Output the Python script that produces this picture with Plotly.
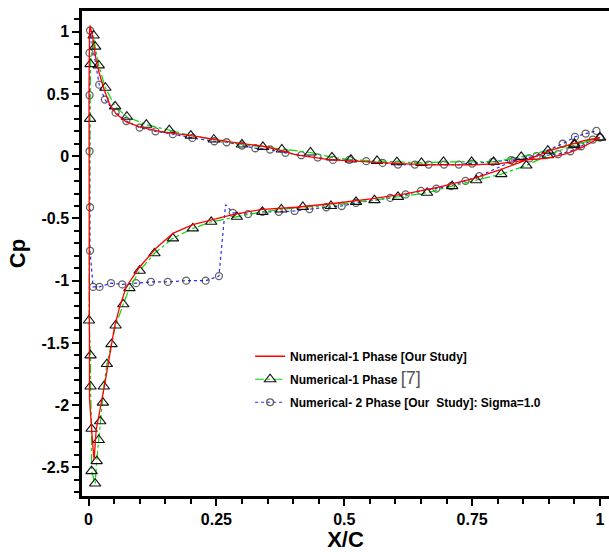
import plotly.graph_objects as go

# ---------------- data ----------------
# Numerical-1 Phase [Our Study]  (red solid line) : path TE(pressure)->LE->TE(suction)
red_x = [1.0, 0.967, 0.935, 0.895, 0.857, 0.804, 0.752, 0.674, 0.609, 0.543, 0.47, 0.406,
         0.378, 0.341, 0.276, 0.217, 0.191, 0.139, 0.10, 0.074, 0.054, 0.041, 0.031, 0.0215,
         0.015, 0.008, 0.003,
         0.002, 0.001, 0.001, 0.002, 0.008, 0.011,
         0.015, 0.0215, 0.031, 0.041, 0.051, 0.061, 0.074, 0.10, 0.132, 0.165, 0.204, 0.243,
         0.282, 0.335, 0.406, 0.478, 0.556, 0.622, 0.687, 0.752, 0.804, 0.857, 0.905, 0.97, 1.0]
red_cp = [0.15, 0.075, 0.02, -0.018, -0.03, -0.06, -0.07, -0.07, -0.06, -0.045, -0.027, 0.01,
          0.045, 0.08, 0.115, 0.155, 0.17, 0.20, 0.235, 0.275, 0.34, 0.42, 0.53, 0.66,
          0.77, 0.96, 1.05,
          1.0, 0.5, -1.0, -1.95, -2.3, -2.44,
          -2.2, -2.07, -1.85, -1.61, -1.37, -1.21, -1.05, -0.89, -0.74, -0.62, -0.55, -0.51,
          -0.47, -0.43, -0.41, -0.38, -0.34, -0.30, -0.246, -0.18, -0.11, -0.03, 0.048, 0.128, 0.15]

# Numerical-1 Phase [7]  (green dash-dot, triangles)
green_x = [1.0, 0.95, 0.898, 0.846, 0.792, 0.749, 0.694, 0.651, 0.603, 0.564, 0.513, 0.476,
           0.434, 0.378, 0.341, 0.30, 0.245, 0.20, 0.158, 0.113, 0.075, 0.052, 0.033, 0.02,
           0.013, 0.01, 0.004, 0.003,
           0.001, 0.004, 0.004, 0.006, 0.006, 0.013, 0.016, 0.02, 0.023, 0.028, 0.03, 0.036,
           0.045, 0.053, 0.068, 0.08, 0.10, 0.129, 0.165, 0.204, 0.24, 0.29, 0.34, 0.377,
           0.419, 0.474, 0.523, 0.559, 0.605, 0.662, 0.711, 0.758, 0.807, 0.856, 0.898, 0.95, 1.0]
green_cp = [0.15, 0.10, 0.045, -0.005, -0.046, -0.046, -0.046, -0.054, -0.048, -0.038, -0.027, -0.01,
            0.03, 0.054, 0.075, 0.094, 0.134, 0.165, 0.21, 0.253, 0.317, 0.40, 0.55, 0.73,
            0.88, 0.97, 0.74, 0.30,
            -1.32, -1.6, -1.85, -2.19, -2.53, -2.63, -2.45, -2.28, -2.13, -1.98, -1.85, -1.67,
            -1.51, -1.36, -1.19, -1.06, -0.92, -0.78, -0.66, -0.58, -0.527, -0.487, -0.447, -0.428,
            -0.407, -0.40, -0.367, -0.353, -0.327, -0.294, -0.24, -0.193, -0.144, -0.075, 0.008, 0.09, 0.15]

# Numerical-2 Phase [Our Study]: Sigma=1.0  (blue dotted, circles)
blue_x = [1.0, 0.986, 0.963, 0.942, 0.918, 0.876, 0.826, 0.79, 0.75, 0.724, 0.695, 0.665,
          0.638, 0.605, 0.575, 0.543, 0.51, 0.478, 0.448, 0.416, 0.385, 0.355, 0.326, 0.30,
          0.27, 0.246, 0.203, 0.165, 0.131, 0.10, 0.074, 0.053, 0.032, 0.021,
          0.003, 0.002, 0.002, 0.002, 0.003, 0.003,
          0.009, 0.0215, 0.044, 0.066, 0.093, 0.122, 0.155, 0.191, 0.229, 0.255,
          0.268,
          0.282, 0.312, 0.34, 0.372, 0.403, 0.432, 0.465, 0.495, 0.523, 0.59, 0.62, 0.65,
          0.68, 0.709, 0.737, 0.764, 0.83, 0.862, 0.927, 0.951, 0.972, 0.993]
blue_cp = [0.15, 0.134, 0.08, 0.04, 0.016, 0.0, -0.032, -0.046, -0.059, -0.067, -0.067, -0.067,
           -0.067, -0.067, -0.054, -0.04, -0.03, -0.03, -0.01, 0.008, 0.027, 0.054, 0.064, 0.086,
           0.112, 0.12, 0.147, 0.177, 0.20, 0.23, 0.283, 0.35, 0.455, 0.575,
           1.01, 0.83, 0.49, 0.04, -0.41, -0.76,
           -1.05, -1.05, -1.02, -1.03, -1.02, -1.01, -1.01, -1.0, -1.0, -0.963,
           -0.39,
           -0.455, -0.465, -0.447, -0.447, -0.44, -0.425, -0.41, -0.40, -0.375, -0.335, -0.307, -0.278,
           -0.26, -0.24, -0.198, -0.16, -0.038, -0.018, 0.10, 0.155, 0.182, 0.203]
blue_unmarked = [0.268]   # x of the cavity-closure point drawn without a symbol

x_tickvals = [0, 0.25, 0.5, 0.75, 1]
x_ticktext = ["0", "0.25", "0.5", "0.75", "1"]
y_tickvals = [1, 0.5, 0, -0.5, -1, -1.5, -2, -2.5]
y_ticktext = ["1", "0.5", "0", "-0.5", "-1", "-1.5", "-2", "-2.5"]

names = ["Numerical-1 Phase [Our Study]",
         "Numerical-1 Phase <span style='font-size:18px;font-weight:normal;color:#555555'>[7]</span>",
         "Numerical- 2 Phase [Our  Study]: Sigma=1.0"]

FONT = "Liberation Sans, Arial, sans-serif"

fig = go.Figure()

blue_sizes = [0 if x in blue_unmarked else 7 for x in blue_x]

fig.add_trace(go.Scatter(
    x=blue_x, y=blue_cp, mode="lines+markers", name=names[2], legendrank=3,
    legendgroup="c",
    line=dict(color="#2a2aff", width=1.2, dash="dot"),
    marker=dict(symbol="circle-open", size=blue_sizes, color="#222222", line=dict(width=1.3)),
))
fig.add_trace(go.Scatter(
    x=green_x, y=green_cp, mode="lines+markers", name=names[1], legendrank=2,
    legendgroup="b",
    line=dict(color="#00dd00", width=1.2, dash="dashdot"),
    marker=dict(symbol="triangle-up-open", size=10, color="#111111", line=dict(width=1.1)),
))
fig.add_trace(go.Scatter(
    x=red_x, y=red_cp, mode="lines", name=names[0], legendrank=1,
    legendgroup="a",
    line=dict(color="#ff0000", width=1.3),
))

fig.update_layout(
    width=609, height=552,
    margin=dict(l=82, r=0, t=11, b=56),
    paper_bgcolor="white", plot_bgcolor="white",
    font=dict(family=FONT, color="black"),
    showlegend=True,
    legend=dict(
        x=0.319, y=0.318, xanchor="left", yanchor="top",
        bgcolor="rgba(255,255,255,0)", borderwidth=0,
        font=dict(family=FONT, size=12, weight="bold", color="black"),
        tracegroupgap=4, traceorder="grouped",
    ),
    xaxis=dict(
        range=[-0.0127, 1.0176], showgrid=False, zeroline=False, automargin=False,
        showline=True, linecolor="black", linewidth=2.5, mirror=True,
        ticks="outside", ticklen=7, tickwidth=2, tickcolor="black",
        tickvals=x_tickvals, ticktext=x_ticktext,
        tickfont=dict(family=FONT, size=16, weight="bold"),
        minor=dict(dtick=0.05, tick0=0, ticks="outside", ticklen=5, tickwidth=2, tickcolor="black"),
        title=dict(text="X/C", font=dict(family=FONT, size=22, weight="bold"), standoff=8),
    ),
    yaxis=dict(
        range=[-2.730, 1.1666], showgrid=False, zeroline=False, automargin=False,
        showline=True, linecolor="black", linewidth=2.5, mirror=False,
        ticks="outside", ticklen=7, tickwidth=2, tickcolor="black",
        tickvals=y_tickvals, ticktext=y_ticktext,
        tickfont=dict(family=FONT, size=16, weight="bold"),
        minor=dict(dtick=0.1, tick0=0, ticks="outside", ticklen=5, tickwidth=2, tickcolor="black"),
        title=dict(text="Cp", font=dict(family=FONT, size=22, weight="bold"), standoff=10),
    ),
)

fig.write_html("out.html", config={"displayModeBar": False},
               post_script="document.body.style.margin='0px';")
